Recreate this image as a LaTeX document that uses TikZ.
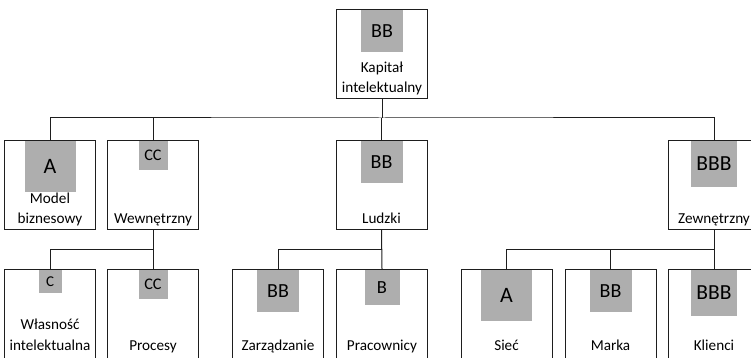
\documentclass[tikz,border=0pt]{standalone}
\usepackage{fontspec}
\setmainfont{Carlito}
\definecolor{ratinggray}{RGB}{174,174,174}
\definecolor{linegray}{RGB}{30,30,30}
\begin{document}
\begin{tikzpicture}[x=1pt,y=1pt,
  unit/.style={draw=linegray, line width=1pt, fill=white, minimum width=91pt,
    minimum height=89pt, inner sep=0pt},
  rating/.style 2 args={fill=ratinggray, anchor=north, inner sep=0pt,
    minimum size=#1, yshift=-0.5pt, font=\fontsize{#2}{#2}\selectfont},
  caption/.style={anchor=south, align=center, inner sep=0pt, text depth=0pt,
    yshift=#1, font=\fontsize{15.2}{20.5}\selectfont},
  caption/.default=6pt,
  link/.style={line width=1pt, draw=linegray}]
\useasboundingbox (0,0) rectangle (751,358);
\clip (0,0) rectangle (751,358);

% level 0
\node[unit] (root) at (382,304) {};
% level 1
\node[unit] (model) at (50,173) {};
\node[unit] (inner) at (153,173) {};
\node[unit] (human) at (381.5,173) {};
\node[unit] (outer) at (714,173) {};
% level 2
\node[unit] (ip)      at (50,44) {};
\node[unit] (proc)    at (153,44) {};
\node[unit] (mgmt)    at (278,44) {};
\node[unit] (staff)   at (382,44) {};
\node[unit] (net)     at (506.5,44) {};
\node[unit] (brand)   at (610.5,44) {};
\node[unit] (clients) at (714,44) {};

% rating tags
\node[rating={42pt}{20}]   (root-r)    at (root.north)    {BB};
\node[rating={51pt}{22}]   (model-r)   at (model.north)   {A};
\node[rating={29pt}{16.2}] (inner-r)   at (inner.north)   {CC};
\node[rating={42pt}{20}]   (human-r)   at (human.north)   {BB};
\node[rating={46pt}{21.5}] (outer-r)   at (outer.north)   {BBB};
\node[rating={23pt}{15}]   (ip-r)      at (ip.north)      {C};
\node[rating={29pt}{16.2}] (proc-r)    at (proc.north)    {CC};
\node[rating={42pt}{20}]   (mgmt-r)    at (mgmt.north)    {BB};
\node[rating={35pt}{18.5}] (staff-r)   at (staff.north)   {B};
\node[rating={51pt}{22}]   (net-r)     at (net.north)     {A};
\node[rating={42pt}{20}]   (brand-r)   at (brand.north)   {BB};
\node[rating={46pt}{21.5}] (clients-r) at (clients.north) {BBB};

% captions
\node[caption] (root-t)  at (root.south)  {Kapitał\\intelektualny};
\node[caption] (model-t) at (model.south) {Model\\biznesowy};
\node[caption] (inner-t) at (inner.south) {Wewnętrzny};
\node[caption] (human-t) at (human.south) {Ludzki};
\node[caption] (outer-t) at (outer.south) {Zewnętrzny};
\node[caption=8.5pt] (ip-t)      at (ip.south)      {Własność\\intelektualna};
\node[caption=8.5pt] (proc-t)    at (proc.south)    {Procesy};
\node[caption=8.5pt] (mgmt-t)    at (mgmt.south)    {Zarządzanie};
\node[caption=8.5pt] (staff-t)   at (staff.south)   {Pracownicy};
\node[caption=8.5pt] (net-t)     at (net.south)     {Sieć};
\node[caption=8.5pt] (brand-t)   at (brand.south)   {Marka};
\node[caption=8.5pt] (clients-t) at (clients.south) {Klienci};

% connectors: root to level 1
\coordinate (bus) at (382,240);
\draw[link] (root.south) -- (bus);
\draw[link] (model.north) |- (bus) -| (outer.north);
\draw[link] (inner.north) -- (inner.north |- bus);
\draw[link] (human.north) -- (human.north |- bus);

% connectors: level 1 to level 2
\coordinate (busI) at (153,108);
\draw[link] (inner.south) -- (proc.north);
\draw[link] (ip.north) |- (busI);
\coordinate (busH) at (381.5,108);
\draw[link] (human.south) -- (staff.north);
\draw[link] (mgmt.north) |- (busH);
\coordinate (busO) at (714,108);
\draw[link] (outer.south) -- (clients.north);
\draw[link] (net.north) |- (busO);
\draw[link] (brand.north) -- (brand.north |- busO);
\end{tikzpicture}
\end{document}
